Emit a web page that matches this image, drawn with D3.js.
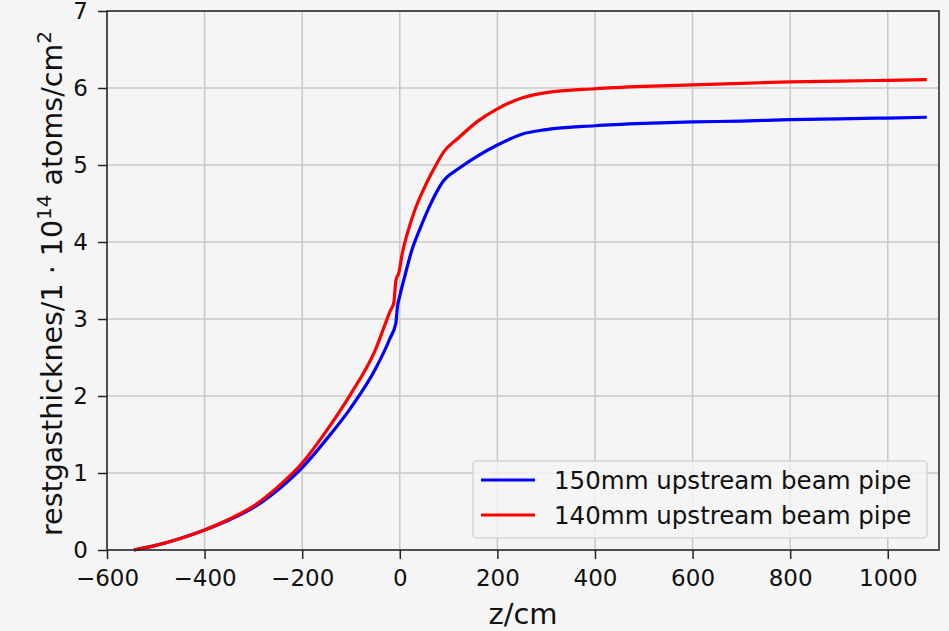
<!DOCTYPE html>
<html>
<head>
<meta charset="utf-8">
<script src="https://cdn.jsdelivr.net/npm/d3@7"></script>
<style>
  body { margin: 0; background: #f5f5f5; }
  svg { display: block; font-family: "DejaVu Sans", sans-serif; }
</style>
</head>
<body>
<svg width="949" height="631"></svg>
<script>
// data
var zBlue = [-545,-500,-450,-400,-350,-300,-250,-200,-150,-100,-50,-20,-8,-5,0,10,25,40,60,80,88,120,160,200,250,300,400,500,600,700,800,900,1000,1080];
var yBlue = [0,0.06,0.15,0.26,0.39,0.55,0.78,1.07,1.44,1.85,2.35,2.75,2.95,3.15,3.3,3.55,3.9,4.15,4.45,4.7,4.78,4.95,5.12,5.26,5.4,5.46,5.51,5.54,5.56,5.57,5.59,5.6,5.61,5.62];
var zRed = [-545,-500,-450,-400,-350,-300,-250,-200,-150,-100,-50,-20,-12,-8,-2,5,15,30,50,70,85,90,120,160,200,250,300,400,500,600,700,800,900,1000,1080];
var yRed = [0,0.06,0.15,0.26,0.4,0.57,0.82,1.13,1.55,2.03,2.6,3.1,3.22,3.5,3.6,3.85,4.1,4.4,4.7,4.95,5.12,5.17,5.35,5.57,5.73,5.87,5.94,5.99,6.02,6.04,6.06,6.08,6.09,6.1,6.11];
var xTicks = [-600,-400,-200,0,200,400,600,800,1000];
var yTicks = [0,1,2,3,4,5,6,7];
var seriesNames = ['150mm upstream beam pipe', '140mm upstream beam pipe'];
var seriesColors = ['#0000ff', '#ff0000'];

var svg = d3.select('svg');
var margin = {top: 11, left: 107, right: 10, bottom: 81};
var W = 949, H = 631;
var innerW = W - margin.left - margin.right;
var innerH = H - margin.top - margin.bottom;

var x = d3.scaleLinear().domain([-600, 1105]).range([0, innerW]);
var y = d3.scaleLinear().domain([0, 7]).range([innerH, 0]);

var g = svg.append('g').attr('transform', 'translate(' + margin.left + ',' + margin.top + ')');

// grid
g.append('g').selectAll('line').data(xTicks).enter().append('line')
  .attr('x1', d => x(d)).attr('x2', d => x(d))
  .attr('y1', 0).attr('y2', innerH)
  .attr('stroke', '#c8c8c8').attr('stroke-width', 1.5);
g.append('g').selectAll('line').data(yTicks).enter().append('line')
  .attr('y1', d => y(d)).attr('y2', d => y(d))
  .attr('x1', 0).attr('x2', innerW)
  .attr('stroke', '#c8c8c8').attr('stroke-width', 1.5);

// axes
var xAxis = d3.axisBottom(x).tickValues(xTicks).tickSize(9).tickPadding(11)
  .tickFormat(d => d < 0 ? '\u2212' + Math.abs(d) : d);
var yAxis = d3.axisLeft(y).tickValues(yTicks).tickSize(9).tickPadding(10)
  .tickFormat(d3.format('d'));
var gx = g.append('g').attr('transform', 'translate(0,' + innerH + ')').call(xAxis);
var gy = g.append('g').call(yAxis);
[gx, gy].forEach(function(a) {
  a.select('.domain').remove();
  a.selectAll('line').attr('stroke', '#222').attr('stroke-width', 1.5);
  a.selectAll('text').attr('fill', '#111').style('font-size', '23px')
   .style('font-family', '"DejaVu Sans", sans-serif');
});

// curves
var line = d3.line().x(d => x(d[0])).y(d => y(d[1])).curve(d3.curveMonotoneX);
var series = [d3.zip(zBlue, yBlue), d3.zip(zRed, yRed)];
series.forEach(function(s, i) {
  g.append('path').datum(s).attr('d', line)
    .attr('fill', 'none').attr('stroke', seriesColors[i])
    .attr('stroke-width', 3.2).attr('stroke-linejoin', 'round');
});

// frame
g.append('rect').attr('width', innerW).attr('height', innerH)
  .attr('fill', 'none').attr('stroke', '#222').attr('stroke-width', 1.5);

// legend
var leg = g.append('g').attr('transform', 'translate(' + (473 - margin.left) + ',' + (461 - margin.top) + ')');
leg.append('rect').attr('width', 454).attr('height', 77).attr('rx', 4)
  .attr('fill', '#f5f5f5').attr('fill-opacity', 0.8)
  .attr('stroke', '#d6d6d6').attr('stroke-width', 1.5);
seriesNames.forEach(function(n, i) {
  var yy = 19 + i * 35;
  leg.append('line').attr('x1', 8).attr('x2', 62).attr('y1', yy).attr('y2', yy)
    .attr('stroke', seriesColors[i]).attr('stroke-width', 3.2);
  leg.append('text').attr('x', 81).attr('y', yy + 9).text(n)
    .attr('fill', '#111').style('font-size', '24.5px');
});

// axis labels
svg.append('text').attr('x', margin.left + innerW / 2).attr('y', 624)
  .attr('text-anchor', 'middle').style('font-size', '29px').attr('fill', '#111').text('z/cm');

var yl = svg.append('text').attr('transform', 'translate(62,' + (margin.top + innerH / 2 + 3) + ') rotate(-90)')
  .attr('text-anchor', 'middle').style('font-size', '28.5px').attr('fill', '#111');
yl.append('tspan').text('restgasthicknes/1 \u00b7 10');
yl.append('tspan').attr('dy', -11).style('font-size', '20px').text('14');
yl.append('tspan').attr('dy', 11).text(' atoms/cm');
yl.append('tspan').attr('dy', -11).style('font-size', '20px').text('2');
</script>
</body>
</html>
